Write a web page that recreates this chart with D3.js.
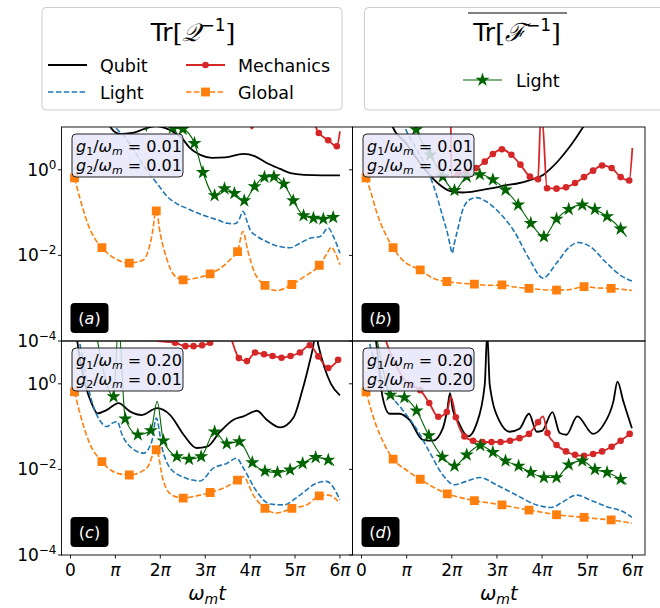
<!DOCTYPE html>
<html>
<head>
<meta charset="utf-8">
<script src="https://cdn.jsdelivr.net/npm/d3@7"></script>
<style>
  body { margin: 0; background: #fff; }
  text { font-family: "DejaVu Sans", sans-serif; }
</style>
</head>
<body>
<div id="chart"></div>
<script>
// x is omega_m t in units of pi, y is log10 of the trace

// (a) g1 = 0.01, g2 = 0.01
var qubitA = [[0.8,1.3],[0.9,0.98],[1.1,0.84],[1.37,0.86],[1.63,0.95],[1.9,1.02],[2.1,0.98],[2.3,0.88],[2.48,0.74],[2.65,0.52],[2.89,0.35],[3.15,0.28],[3.45,0.29],[3.85,0.37],[4.1,0.32],[4.37,0.16],[4.67,0.02],[4.9,-0.08],[5.2,-0.12],[5.6,-0.13],[6.0,-0.13]];
var lightA = [[0.85,1.3],[1.0,1.0],[1.2,0.78],[1.45,0.4],[1.65,0.06],[1.81,-0.16],[2.0,-0.42],[2.15,-0.62],[2.35,-0.78],[2.59,-0.9],[2.8,-1.0],[3.04,-1.09],[3.3,-1.18],[3.5,-1.25],[3.65,-1.26],[3.75,-1.18],[3.84,-0.97],[3.93,-1.2],[4.0,-1.4],[4.15,-1.55],[4.37,-1.68],[4.6,-1.78],[4.89,-1.82],[5.1,-1.72],[5.33,-1.6],[5.56,-1.56],[5.74,-1.36],[5.85,-1.55],[6.0,-1.95]];
var mechA = [[3.98,1.1],[4.04,0.96],[4.1,1.1],[5.3,1.3],[6.0,0.9]];
var mechMarksA = [[5.53,0.86],[5.74,0.69],[5.93,0.55]];
var globalA = [[0.22,-0.7],[0.41,-1.33],[0.55,-1.62],[1.04,-2.1],[1.63,-2.1],[1.81,-1.56],[2.0,-1.5],[2.15,-2.1],[2.3,-2.45],[2.8,-2.53],[3.4,-2.25],[3.6,-2.05],[3.84,-1.44],[3.95,-1.9],[4.1,-2.4],[4.59,-2.82],[5.2,-2.5],[5.7,-1.98],[5.81,-1.81],[5.9,-1.95],[6.0,-2.22]];
var globalMarksA = [[0.09,-0.19],[0.70,-1.82],[1.31,-2.18],[1.91,-0.96],[2.51,-2.57],[3.11,-2.43],[3.72,-1.91],[4.33,-2.70],[4.93,-2.68],[5.54,-2.23]];
var fisherA = [[1.64,1.3],[1.69,0.9],[1.74,1.3],[2.1,1.3]];
var fisherMarksA = [[2.28,0.98],[2.5,0.95],[2.76,0.62],[2.95,-0.06],[3.21,-0.6],[3.43,-0.44],[3.65,-0.55],[3.87,-0.72],[4.1,-0.39],[4.32,-0.17],[4.53,-0.16],[4.75,-0.33],[4.96,-0.72],[5.19,-1.07],[5.41,-1.13],[5.63,-1.15],[5.85,-1.11]];

// (b) g1 = 0.01, g2 = 0.20
var qubitB = [[0.6,1.3],[0.69,1.0],[0.99,0.62],[1.2,0.3],[1.45,-0.05],[1.73,-0.35],[1.95,-0.49],[2.24,-0.53],[2.62,-0.48],[2.9,-0.43],[3.21,-0.36],[3.45,-0.32],[3.73,-0.24],[4.02,-0.12],[4.2,0.04],[4.35,0.2],[4.47,0.35],[4.62,0.55],[4.91,1.0],[5.0,1.15]];
var lightB = [[0.85,1.3],[0.97,0.97],[1.21,0.5],[1.5,-0.1],[1.65,-0.55],[1.8,-1.1],[1.92,-1.55],[1.97,-1.8],[2.01,-1.95],[2.05,-1.75],[2.13,-1.4],[2.24,-0.94],[2.39,-0.7],[2.54,-0.65],[2.76,-0.74],[3.06,-1.01],[3.36,-1.4],[3.73,-2.11],[4.02,-2.53],[4.32,-2.18],[4.62,-1.79],[4.8,-1.7],[5.06,-1.79],[5.43,-2.18],[5.73,-2.46],[5.99,-2.6]];
var mechB = [[1.9,1.3],[1.975,1.3],[1.99,-0.16],[3.97,1.2],[4.0,1.2],[6.0,0.51]];
var mechMarksB = [[2.14,-0.1],[2.33,-0.04],[2.54,0.04],[2.73,0.19],[2.91,0.37],[3.11,0.48],[3.32,0.35],[3.52,0.12],[3.73,-0.16],[3.91,-0.22],[4.11,-0.43],[4.32,-0.44],[4.53,-0.41],[4.73,-0.31],[4.93,-0.17],[5.13,-0.02],[5.33,0.1],[5.54,0.04],[5.74,-0.17],[5.93,-0.25]];
var globalB = [[0.2,-0.5],[0.32,-0.94],[0.91,-2.11],[1.58,-2.53],[2.2,-2.65],[2.8,-2.7],[3.4,-2.74],[4.0,-2.8],[4.6,-2.8],[5.2,-2.76],[5.99,-2.82]];
var globalMarksB = [[0.10,-0.19],[0.70,-1.82],[1.30,-2.34],[1.89,-2.61],[2.50,-2.67],[3.11,-2.69],[3.71,-2.77],[4.32,-2.81],[4.93,-2.73],[5.53,-2.77]];
var fisherB = [[1.1,1.3],[5.87,-1.56]];
var fisherMarksB = [[1.21,0.94],[1.52,0.35],[1.80,-0.16],[2.06,-0.48],[2.33,-0.16],[2.62,-0.11],[2.91,-0.23],[3.19,-0.47],[3.47,-0.82],[3.75,-1.25],[4.04,-1.56],[4.32,-1.15],[4.59,-0.92],[4.89,-0.82],[5.17,-0.92],[5.44,-1.09],[5.74,-1.38]];

// (c) g1 = 0.20, g2 = 0.01
var qubitC = [[0.1,1.4],[0.15,1.0],[0.33,-0.02],[0.48,-0.48],[0.6,-0.69],[0.81,-0.61],[1.07,-0.45],[1.33,-0.65],[1.59,-0.73],[1.93,-0.57],[2.22,-0.73],[2.52,-1.19],[2.81,-1.5],[3.04,-1.47],[3.33,-1.12],[3.63,-0.84],[3.85,-0.76],[4.15,-0.63],[4.37,-0.84],[4.67,-1.02],[4.96,-0.8],[5.15,-0.2],[5.3,0.4],[5.4,0.85],[5.46,1.2],[5.52,0.9],[5.65,0.4],[5.8,0.0],[6.0,-0.27]];
var lightC = [[0.15,1.3],[0.2,1.0],[0.3,0.42],[0.4,-0.1],[0.5,-0.5],[0.67,-0.88],[0.81,-1.0],[0.93,-0.92],[1.04,-0.88],[1.15,-1.19],[1.41,-1.54],[1.63,-1.62],[1.81,-1.35],[1.91,-0.8],[2.04,-1.5],[2.22,-1.97],[2.59,-2.21],[2.89,-2.27],[3.18,-1.97],[3.48,-1.86],[3.7,-1.74],[3.85,-1.97],[4.15,-2.52],[4.44,-2.81],[4.74,-2.83],[5.11,-2.6],[5.48,-2.32],[5.7,-2.28],[6.0,-2.71]];
var mechC = [[1.75,1.3],[1.95,1.0],[2.15,0.98],[3.2,1.15],[3.45,1.3],[3.58,1.05],[3.68,0.75]];
var mechMarksC = [[2.33,0.96],[2.56,0.88],[2.74,0.88],[2.93,0.9],[3.11,0.96],[3.75,0.6],[3.93,0.53],[4.11,0.73],[4.31,0.69],[4.5,0.65],[4.7,0.61],[4.9,0.65],[5.11,0.73],[5.33,0.9],[5.52,0.64],[5.74,0.37],[5.96,0.56]];
var globalC = [[0.22,-0.73],[0.41,-1.35],[1.04,-2.09],[1.7,-1.97],[2.07,-2.28],[2.26,-2.6],[2.8,-2.62],[3.48,-2.4],[3.85,-2.17],[4.07,-2.6],[4.59,-3.02],[5.26,-2.83],[5.74,-2.6],[6.0,-2.79]];
var globalMarksC = [[0.09,-0.19],[0.70,-1.82],[1.31,-2.13],[1.91,-1.54],[2.51,-2.67],[3.11,-2.54],[3.72,-2.25],[4.33,-2.91],[4.93,-2.91],[5.54,-2.62]];
var fisherC = [[0.55,1.3],[1.07,1.4],[1.93,-0.41],[5.87,-1.91]];
var fisherMarksC = [[0.96,-0.3],[1.22,-0.82],[1.5,-1.19],[1.79,-1.09],[2.07,-1.33],[2.37,-1.7],[2.64,-1.76],[2.91,-1.7],[3.21,-1.12],[3.48,-1.4],[3.76,-1.35],[4.05,-1.84],[4.33,-2.04],[4.61,-2.07],[4.89,-2.01],[5.17,-1.86],[5.46,-1.72],[5.74,-1.78]];

// (d) g1 = 0.20, g2 = 0.20
var qubitD = [[0.25,1.4],[0.32,1.0],[0.47,-0.33],[0.62,-0.7],[0.84,-0.7],[1.06,-0.84],[1.36,-1.31],[1.58,-1.33],[1.8,-1.04],[1.9,-0.6],[1.96,-0.22],[2.02,-0.6],[2.14,-0.88],[2.36,-1.23],[2.54,-0.96],[2.73,-0.02],[2.785,1.2],[2.84,-0.02],[3.06,-0.88],[3.28,-1.12],[3.5,-1.05],[3.71,-0.7],[3.88,-1.12],[4.0,-1.1],[4.23,-0.66],[4.39,-1.15],[4.54,-1.19],[4.78,-0.76],[5.13,-1.17],[5.36,-0.96],[5.58,-0.41],[5.67,0.05],[5.8,-0.41],[5.99,-1.04]];
var lightD = [[0.12,1.3],[0.17,1.0],[0.39,0.29],[0.62,-0.22],[0.91,-0.61],[1.21,-1.04],[1.5,-1.58],[1.8,-2.13],[2.06,-2.36],[2.32,-2.28],[2.62,-2.19],[2.99,-2.36],[3.43,-2.6],[3.88,-2.83],[4.21,-2.89],[4.47,-2.75],[4.76,-2.6],[5.06,-2.71],[5.43,-2.87],[5.8,-2.99],[5.99,-3.12]];
var mechD = [[0.45,1.3],[0.54,1.0],[0.76,0.44],[0.95,0.1],[1.98,-0.3],[4.02,-0.76],[5.99,-1.12]];
var mechMarksD = [[1.1,-0.03],[1.3,-0.15],[1.5,-0.45],[1.7,-0.77],[1.89,-0.66],[2.09,-0.78],[2.28,-1.23],[2.47,-1.33],[2.68,-1.36],[2.88,-1.36],[3.08,-1.36],[3.29,-1.33],[3.5,-1.27],[3.71,-1.17],[3.91,-0.9],[4.12,-1.15],[4.32,-1.43],[4.53,-1.58],[4.73,-1.66],[4.93,-1.68],[5.13,-1.64],[5.33,-1.58],[5.54,-1.47],[5.74,-1.33],[5.94,-1.17]];
var globalD = [[0.32,-0.96],[0.5,-1.4],[1.0,-2.02],[1.6,-2.42],[2.2,-2.66],[2.8,-2.78],[3.4,-2.89],[4.0,-3.0],[4.6,-3.09],[5.2,-3.15],[5.99,-3.26]];
var globalMarksD = [[0.10,-0.19],[0.70,-1.76],[1.30,-2.23],[1.90,-2.57],[2.50,-2.73],[3.11,-2.83],[3.71,-2.95],[4.32,-3.06],[4.93,-3.12],[5.53,-3.18]];
var fisherD = [[0.3,1.3],[0.47,0.37],[5.87,-2.35]];
var fisherMarksD = [[0.64,-0.26],[0.95,-0.32],[1.22,-0.63],[1.49,-1.21],[1.79,-1.71],[2.06,-1.92],[2.33,-1.66],[2.63,-1.44],[2.91,-1.6],[3.19,-1.8],[3.48,-1.92],[3.75,-2.07],[4.04,-2.19],[4.32,-2.19],[4.59,-1.89],[4.89,-1.8],[5.17,-2.0],[5.44,-2.07],[5.74,-2.23]];

var panelTags = ["a", "b", "c", "d"];
var g1Values = ["0.01", "0.01", "0.20", "0.20"];
var g2Values = ["0.01", "0.20", "0.01", "0.20"];
var yTickExps = [0, -2, -4];
var xTickMultiples = [0, 1, 2, 3, 4, 5, 6];

var width = 660, height = 608;
var cols = [[61.5, 352.5], [352.5, 645]];
var rows = [[127, 341], [341, 555]];

var colors = { qubit: "#000000", light: "#1f77b4", mech: "#d62728", global: "#ff7f0e", fisher: "#006400" };
var dash = "5.5,2.4";

var panels = [
  { q: qubitA, l: lightA, m: mechA, mm: mechMarksA, g: globalA, gm: globalMarksA, f: fisherA, fm: fisherMarksA },
  { q: qubitB, l: lightB, m: mechB, mm: mechMarksB, g: globalB, gm: globalMarksB, f: fisherB, fm: fisherMarksB },
  { q: qubitC, l: lightC, m: mechC, mm: mechMarksC, g: globalC, gm: globalMarksC, f: fisherC, fm: fisherMarksC },
  { q: qubitD, l: lightD, m: mechD, mm: mechMarksD, g: globalD, gm: globalMarksD, f: fisherD, fm: fisherMarksD }
];

var svg = d3.select("#chart").append("svg")
  .attr("width", width)
  .attr("height", height);

var star = d3.symbol().type(d3.symbolStar).size(62);
var square = d3.symbol().type(d3.symbolSquare).size(78);

function merged(a, b) {
  return a.concat(b).sort(function(p, q) { return p[0] - q[0]; });
}

panels.forEach(function(p, i) {
  var c = i % 2, r = Math.floor(i / 2);
  var x = d3.scaleLinear().domain([-0.2, 6.28]).range(cols[c]);
  var y = d3.scaleLog().domain([1e-4, 10]).range([rows[r][1], rows[r][0]]);

  var g = svg.append("g");
  var clipId = "clip" + i;
  svg.append("clipPath").attr("id", clipId).append("rect")
    .attr("x", cols[c][0]).attr("y", rows[r][0])
    .attr("width", cols[c][1] - cols[c][0]).attr("height", rows[r][1] - rows[r][0]);

  var plot = g.append("g").attr("clip-path", "url(#" + clipId + ")");
  var line = d3.line()
    .x(function(d) { return x(d[0]); })
    .y(function(d) { return y(Math.pow(10, d[1])); })
    .curve(d3.curveMonotoneX);

  plot.append("path").attr("d", line(p.q))
    .attr("fill", "none").attr("stroke", colors.qubit).attr("stroke-width", 1.8);
  plot.append("path").attr("d", line(p.l))
    .attr("fill", "none").attr("stroke", colors.light).attr("stroke-width", 1.6)
    .attr("stroke-dasharray", dash);
  plot.append("path").attr("d", line(merged(p.m, p.mm)))
    .attr("fill", "none").attr("stroke", colors.mech).attr("stroke-width", 1.8);
  plot.selectAll(".dot").data(p.mm).enter().append("circle")
    .attr("cx", function(d) { return x(d[0]); })
    .attr("cy", function(d) { return y(Math.pow(10, d[1])); })
    .attr("r", 3.3).attr("fill", colors.mech);
  plot.append("path").attr("d", line(merged(p.g, p.gm)))
    .attr("fill", "none").attr("stroke", colors.global).attr("stroke-width", 1.6)
    .attr("stroke-dasharray", dash);
  plot.selectAll(".sq").data(p.gm).enter().append("path")
    .attr("d", square)
    .attr("transform", function(d) { return "translate(" + x(d[0]) + "," + y(Math.pow(10, d[1])) + ")"; })
    .attr("fill", colors.global);
  plot.append("path").attr("d", line(merged(p.f, p.fm)))
    .attr("fill", "none").attr("stroke", colors.fisher).attr("stroke-width", 1.1);
  plot.selectAll(".st").data(p.fm).enter().append("path")
    .attr("d", star)
    .attr("transform", function(d) { return "translate(" + x(d[0]) + "," + y(Math.pow(10, d[1])) + ")"; })
    .attr("fill", colors.fisher);

  // frame
  g.append("rect")
    .attr("x", cols[c][0]).attr("y", rows[r][0])
    .attr("width", cols[c][1] - cols[c][0]).attr("height", rows[r][1] - rows[r][0])
    .attr("fill", "none").attr("stroke", "#000").attr("stroke-width", 0.9);

  // y ticks
  yTickExps.forEach(function(e) {
    var ty = y(Math.pow(10, e));
    g.append("line").attr("x1", cols[c][0] - 3.5).attr("x2", cols[c][0])
      .attr("y1", ty).attr("y2", ty).attr("stroke", "#000").attr("stroke-width", 0.9);
    if (c === 0) {
      var t = g.append("text").attr("x", cols[c][0] - 5).attr("y", ty + 6)
        .attr("text-anchor", "end").attr("font-size", 17);
      t.append("tspan").text("10");
      t.append("tspan").attr("dy", -7).attr("font-size", 12).text(e === 0 ? "0" : "\u2212" + (-e));
    }
  });

  // x ticks on bottom row
  if (r === 1) {
    xTickMultiples.forEach(function(m) {
      var tx = x(m);
      g.append("line").attr("x1", tx).attr("x2", tx)
        .attr("y1", rows[r][1]).attr("y2", rows[r][1] + 3.5)
        .attr("stroke", "#000").attr("stroke-width", 0.9);
      var lab = g.append("text").attr("x", tx).attr("y", 576).attr("text-anchor", "middle")
        .attr("font-size", 17);
      if (m === 0) {
        lab.text("0");
      } else {
        if (m > 1) lab.append("tspan").text(String(m));
        lab.append("tspan").attr("font-style", "italic").text("\u03c0");
      }
    });
    var xl = g.append("text").attr("x", (cols[c][0] + cols[c][1]) / 2).attr("y", 600)
      .attr("text-anchor", "middle").attr("font-size", 19.5).attr("font-style", "italic");
    xl.append("tspan").text("\u03c9");
    xl.append("tspan").attr("dy", 4).attr("font-size", 14).text("m");
    xl.append("tspan").attr("dy", -4).text("t");
  }

  // coupling box
  var bx = cols[c][0] + 10.5, by = rows[r][0] + 7;
  g.append("rect").attr("x", bx).attr("y", by).attr("width", 111).attr("height", 43)
    .attr("rx", 4).attr("fill", "#e6e6fa").attr("fill-opacity", 0.85)
    .attr("stroke", "#222").attr("stroke-width", 1);
  [g1Values[i], g2Values[i]].forEach(function(v, k) {
    var t = g.append("text").attr("x", bx + 4).attr("y", by + 18 + k * 19).attr("font-size", 16);
    t.append("tspan").attr("font-style", "italic").text("g");
    t.append("tspan").attr("dy", 3).attr("font-size", 11).text(String(k + 1));
    t.append("tspan").attr("dy", -3).text("/");
    t.append("tspan").attr("font-style", "italic").text("\u03c9");
    t.append("tspan").attr("dy", 3).attr("font-size", 11).attr("font-style", "italic").text("m");
    t.append("tspan").attr("dy", -3).text(" = " + v);
  });

  // panel tag
  var tx0 = cols[c][0] + 9, ty0 = rows[r][1] - 38;
  g.append("rect").attr("x", tx0).attr("y", ty0).attr("width", 38).attr("height", 30)
    .attr("rx", 4).attr("fill", "#000");
  var tt = g.append("text").attr("x", tx0 + 19).attr("y", ty0 + 21)
    .attr("text-anchor", "middle").attr("font-size", 16).attr("fill", "#fff");
  tt.append("tspan").text("(");
  tt.append("tspan").attr("font-style", "italic").text(panelTags[i]);
  tt.append("tspan").text(")");
});

// legends
var leg = svg.append("g");
leg.append("rect").attr("x", 42).attr("y", 7.5).attr("width", 300).attr("height", 102.5)
  .attr("rx", 4).attr("fill", "#fff").attr("stroke", "#cccccc").attr("stroke-width", 1);
var t1 = leg.append("text").attr("x", 193).attr("y", 41).attr("text-anchor", "middle").attr("font-size", 25);
t1.append("tspan").text("Tr");
t1.append("tspan").attr("font-family", "DejaVu Serif").text("[");
t1.append("tspan").attr("font-family", "DejaVu Serif").attr("font-style", "italic").text("\ud835\udcac");
t1.append("tspan").attr("dy", -10).attr("font-size", 17).text("\u22121");
t1.append("tspan").attr("dy", 10).attr("font-family", "DejaVu Serif").text("]");

function legendLine(x0, yy, color, dashArr, w, marker) {
  leg.append("line").attr("x1", x0).attr("x2", x0 + 39).attr("y1", yy).attr("y2", yy)
    .attr("stroke", color).attr("stroke-width", w).attr("stroke-dasharray", dashArr);
  if (marker === "dot") leg.append("circle").attr("cx", x0 + 19.5).attr("cy", yy).attr("r", 3.3).attr("fill", color);
  if (marker === "square") leg.append("path").attr("d", square).attr("transform", "translate(" + (x0 + 19.5) + "," + yy + ")").attr("fill", color);
  if (marker === "star") leg.append("path").attr("d", star).attr("transform", "translate(" + (x0 + 19.5) + "," + yy + ")").attr("fill", color);
}
legendLine(48, 65, colors.qubit, null, 1.8, null);
legendLine(186, 65, colors.mech, null, 1.8, "dot");
legendLine(48, 92, colors.light, dash, 1.6, null);
legendLine(186, 92, colors.global, dash, 1.6, "square");
leg.append("text").attr("x", 100).attr("y", 72).attr("font-size", 17.5).text("Qubit");
leg.append("text").attr("x", 238).attr("y", 72).attr("font-size", 17.5).text("Mechanics");
leg.append("text").attr("x", 100).attr("y", 99).attr("font-size", 17.5).text("Light");
leg.append("text").attr("x", 238).attr("y", 99).attr("font-size", 17.5).text("Global");

leg.append("rect").attr("x", 364.5).attr("y", 7.5).attr("width", 340).attr("height", 102.5)
  .attr("rx", 4).attr("fill", "#fff").attr("stroke", "#cccccc").attr("stroke-width", 1);
var t2 = leg.append("text").attr("x", 517).attr("y", 41).attr("text-anchor", "middle").attr("font-size", 25);
t2.append("tspan").text("Tr");
t2.append("tspan").attr("font-family", "DejaVu Serif").text("[");
t2.append("tspan").attr("font-family", "DejaVu Serif").attr("font-style", "italic").text("\u2131");
t2.append("tspan").attr("dy", -10).attr("font-size", 17).text("\u22121");
t2.append("tspan").attr("dy", 10).attr("font-family", "DejaVu Serif").text("]");
leg.append("line").attr("x1", 468).attr("x2", 567).attr("y1", 13).attr("y2", 13)
  .attr("stroke", "#000").attr("stroke-width", 1);
legendLine(463, 80, colors.fisher, null, 1.1, "star");
leg.append("text").attr("x", 516).attr("y", 87).attr("font-size", 17.5).text("Light");
</script>
</body>
</html>
